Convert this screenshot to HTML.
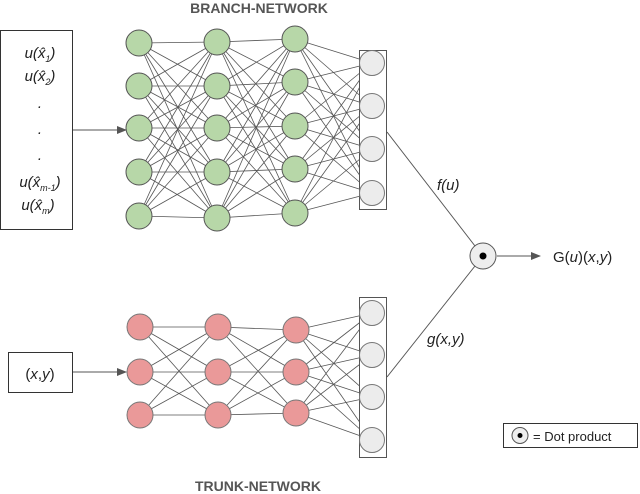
<!DOCTYPE html>
<html><head><meta charset="utf-8"><style>
body{margin:0;background:#fff;}
svg{display:block;}
text{font-family:"Liberation Sans",sans-serif;fill:#222;}
</style></head><body>
<svg id="s" width="640" height="494" viewBox="0 0 640 494" xmlns="http://www.w3.org/2000/svg">
<defs><marker id="a" markerWidth="10" markerHeight="8" refX="9" refY="4" orient="auto" markerUnits="userSpaceOnUse"><path d="M0,0 L10,4 L0,8z" fill="#555"/></marker></defs>
<g id="lines" stroke="#555" stroke-width="0.8"></g>
<g id="nodes"></g>
<text x="259" y="13" text-anchor="middle" font-weight="bold" font-size="14" style="fill:#555">BRANCH-NETWORK</text>
<text x="258" y="491" text-anchor="middle" font-weight="bold" font-size="14" style="fill:#555">TRUNK-NETWORK</text>
<rect x="0.5" y="30.5" width="72" height="199" fill="none" stroke="#333"/>
<g font-size="15" font-style="italic" text-anchor="middle">
<text x="40" y="58">u(x̂<tspan font-size="9" dy="4">1</tspan><tspan dy="-4">)</tspan></text>
<text x="40" y="81">u(x̂<tspan font-size="9" dy="4">2</tspan><tspan dy="-4">)</tspan></text>
<text x="40" y="108">.</text><text x="40" y="134">.</text><text x="40" y="160">.</text>
<text x="40" y="187">u(x̂<tspan font-size="9" dy="4">m-1</tspan><tspan dy="-4">)</tspan></text>
<text x="38" y="210">u(x̂<tspan font-size="9" dy="4">m</tspan><tspan dy="-4">)</tspan></text>
</g>
<line x1="73" y1="130" x2="126" y2="130" stroke="#555" marker-end="url(#a)"/>
<rect x="8.5" y="352.5" width="64" height="40" fill="none" stroke="#333"/>
<text x="40" y="379" text-anchor="middle" font-size="15">(<tspan font-style="italic">x</tspan>,<tspan font-style="italic">y</tspan>)</text>
<line x1="73" y1="372" x2="126" y2="372" stroke="#555" marker-end="url(#a)"/>
<line x1="387" y1="132" x2="475" y2="246" stroke="#555"/>
<line x1="387" y1="377" x2="475" y2="266" stroke="#555"/>
<line x1="497" y1="256" x2="540" y2="256" stroke="#555" marker-end="url(#a)"/>
<circle cx="483" cy="256" r="13" fill="#eee" stroke="#555"/>
<circle cx="483" cy="256" r="3.5" fill="#000"/>
<text x="437" y="190" font-size="15" font-style="italic">f(u)</text>
<text x="427" y="344" font-size="15" font-style="italic">g(x,y)</text>
<text x="553" y="262" font-size="15">G(<tspan font-style="italic">u</tspan>)(<tspan font-style="italic">x</tspan>,<tspan font-style="italic">y</tspan>)</text>
<rect x="503.5" y="423.5" width="134" height="24" fill="none" stroke="#333"/>
<circle cx="520" cy="435.5" r="8" fill="#eee" stroke="#555"/>
<circle cx="520" cy="435.5" r="2.5" fill="#000"/>
<text x="533" y="441" font-size="13">= Dot product</text>
</svg>
<script>
var L=document.getElementById('lines'),N=document.getElementById('nodes'),ns='http://www.w3.org/2000/svg';
function el(p,t,a){var e=document.createElementNS(ns,t);for(var k in a)e.setAttribute(k,a[k]);p.appendChild(e);return e;}
var branch=[[139,[43,86,128,172,216]],[217,[42,86,128,172,218]],[295,[39,82,126,169,213]],[372,[63,106,149,193]]];
var trunk=[[140,[327,372,415]],[218,[327,372,415]],[296,[330,372,413]],[372,[313,355,397,440]]];
function net(layers,fill,stroke,r0,box){
 for(var i=0;i<layers.length-1;i++){var A=layers[i],B=layers[i+1];
  A[1].forEach(function(y1){B[1].forEach(function(y2){el(L,'line',{x1:A[0],y1:y1,x2:B[0],y2:y2});});});}
 el(N,'rect',{x:box[0]+.5,y:box[1]+.5,width:box[2],height:box[3],fill:'#fff',stroke:'#555'});
 layers.forEach(function(l,i){l[1].forEach(function(y){var last=i==layers.length-1;
  el(N,'circle',{cx:l[0],cy:y,r:last?12.5:13,fill:last?'#ececec':fill,stroke:last?'#777':stroke,'stroke-width':1});});});
}
net(branch,'#b7d7a8','#555',13,[359,50,27,159]);
net(trunk,'#ea9999','#777',13,[359,297,27,160]);
</script>
</body></html>
